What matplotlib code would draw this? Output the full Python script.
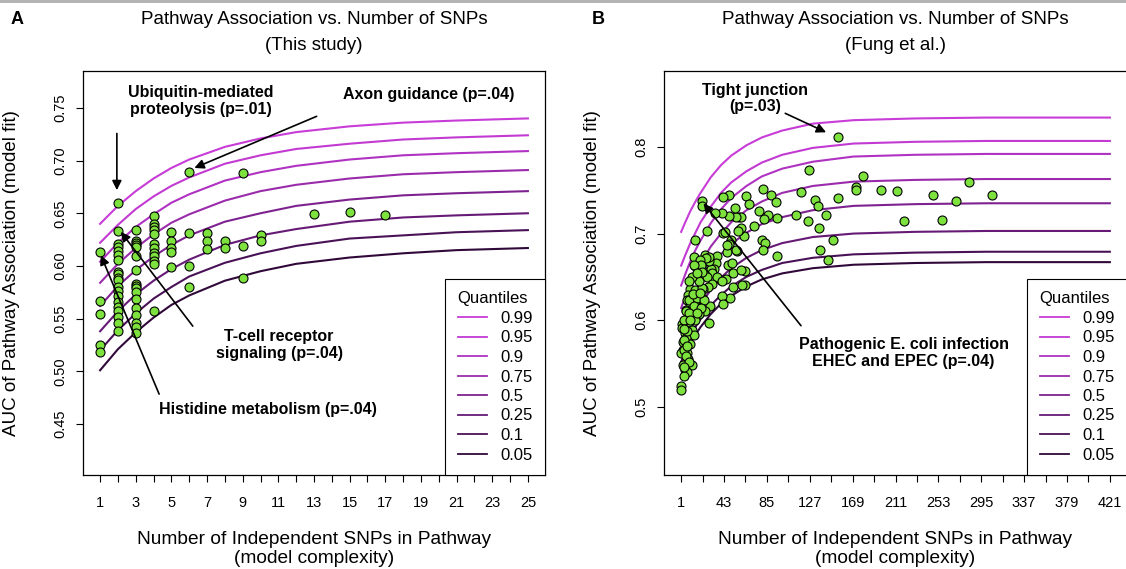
import matplotlib
matplotlib.use('Agg')
import matplotlib.pyplot as plt
from matplotlib.lines import Line2D
from matplotlib.patches import Rectangle

plt.rcParams['font.family'] = ['Liberation Sans', 'DejaVu Sans']

quantiles = ['0.99', '0.95', '0.9', '0.75', '0.5', '0.25', '0.1', '0.05']
curve_colors = ['#c83cd8', '#c23ad2', '#b032c2', '#9a2cab', '#7e2290', '#661a76', '#4a1256', '#30093a']

# ---- panel A : this study ----
a_curve_x = [1, 2, 3, 4, 5, 6, 8, 10, 12, 15, 18, 21, 25]
a_curves = [
    [0.640, 0.657, 0.671, 0.683, 0.693, 0.701, 0.713, 0.721, 0.727, 0.7325, 0.736, 0.738, 0.740],
    [0.622, 0.639, 0.654, 0.666, 0.676, 0.684, 0.697, 0.705, 0.711, 0.716, 0.720, 0.722, 0.724],
    [0.604, 0.622, 0.637, 0.649, 0.660, 0.668, 0.681, 0.689, 0.695, 0.701, 0.705, 0.707, 0.709],
    [0.584, 0.602, 0.617, 0.630, 0.641, 0.649, 0.662, 0.671, 0.677, 0.683, 0.687, 0.689, 0.691],
    [0.562, 0.581, 0.596, 0.609, 0.620, 0.629, 0.642, 0.650, 0.657, 0.663, 0.667, 0.669, 0.671],
    [0.538, 0.557, 0.573, 0.586, 0.597, 0.606, 0.620, 0.629, 0.635, 0.642, 0.646, 0.648, 0.650],
    [0.520, 0.539, 0.555, 0.569, 0.580, 0.590, 0.603, 0.612, 0.619, 0.626, 0.629, 0.632, 0.634],
    [0.501, 0.521, 0.537, 0.551, 0.563, 0.572, 0.586, 0.595, 0.602, 0.608, 0.612, 0.615, 0.617],
]
a_snps = ([1] * 5 + [2] * 20 + [3] * 17 + [4] * 12 + [5] * 5 + [6] * 4 + [7] * 3 + [8] * 2
          + [9] * 3 + [10] * 2 + [13, 15, 17])
a_auc = [0.613, 0.567, 0.554, 0.525, 0.518,
         0.660, 0.633, 0.621, 0.618, 0.614, 0.610, 0.606, 0.594, 0.592, 0.589,
         0.587, 0.580, 0.576, 0.571, 0.566, 0.561, 0.557, 0.552, 0.546, 0.538,
         0.634, 0.624, 0.622, 0.620, 0.618, 0.609, 0.596, 0.583, 0.581, 0.579,
         0.575, 0.569, 0.560, 0.553, 0.546, 0.542, 0.536,
         0.647, 0.640, 0.637, 0.634, 0.630, 0.621, 0.617, 0.612, 0.609, 0.605, 0.602, 0.557,
         0.632, 0.624, 0.617, 0.613, 0.599,
         0.689, 0.631, 0.600, 0.580,
         0.631, 0.624, 0.616,
         0.624, 0.617,
         0.688, 0.619, 0.589,
         0.629, 0.624,
         0.649, 0.651, 0.648]

# ---- panel B : Fung et al. ----
b_curve_x = [1, 5, 10, 15, 20, 30, 40, 50, 65, 80, 100, 130, 170, 230, 300, 421]
b_curves = [
    [0.702, 0.713, 0.726, 0.737, 0.747, 0.765, 0.779, 0.790, 0.802, 0.811, 0.819, 0.827, 0.831, 0.833, 0.834, 0.834],
    [0.663, 0.675, 0.689, 0.701, 0.713, 0.731, 0.747, 0.759, 0.772, 0.782, 0.791, 0.799, 0.804, 0.806, 0.807, 0.807],
    [0.640, 0.653, 0.668, 0.681, 0.692, 0.712, 0.728, 0.741, 0.755, 0.766, 0.775, 0.783, 0.789, 0.791, 0.792, 0.792],
    [0.614, 0.627, 0.641, 0.654, 0.665, 0.685, 0.700, 0.713, 0.727, 0.737, 0.747, 0.755, 0.760, 0.762, 0.763, 0.763],
    [0.594, 0.606, 0.620, 0.632, 0.643, 0.661, 0.676, 0.688, 0.701, 0.711, 0.719, 0.727, 0.732, 0.734, 0.735, 0.735],
    [0.574, 0.585, 0.597, 0.608, 0.618, 0.635, 0.649, 0.660, 0.672, 0.681, 0.689, 0.696, 0.700, 0.702, 0.703, 0.703],
    [0.560, 0.570, 0.582, 0.592, 0.601, 0.617, 0.629, 0.639, 0.650, 0.658, 0.666, 0.672, 0.676, 0.678, 0.679, 0.679],
    [0.552, 0.562, 0.573, 0.583, 0.592, 0.607, 0.619, 0.628, 0.639, 0.647, 0.654, 0.660, 0.664, 0.666, 0.667, 0.667],
]
b_snps = [155, 126, 179, 283, 172, 172, 197, 212, 248, 306, 270, 219, 257, 155, 132, 135, 118, 143,
          136, 150, 137, 145, 114, 125, 95, 95, 81, 89, 94, 77, 86, 82, 72, 80, 83, 81, 65, 67, 63,
          64, 64,
          58, 60, 55, 48, 54, 48, 42, 41, 34, 58, 60, 56, 52, 52, 49, 41, 42, 42, 44, 50, 48, 46,
          47, 51, 40, 45, 36, 35, 33, 30, 31, 36, 26, 21, 21, 24, 21, 28, 24, 26, 31, 27, 22, 21,
          29, 24, 28, 55, 46, 61, 57, 28, 25, 41, 60,
          15, 14, 19, 15, 16, 10, 7.5, 6.6, 14, 10, 16, 5.6, 11.5, 18, 14.7, 9, 2, 2, 5, 11.5,
          13.8, 6, 2.6, 10, 3.3, 6.6, 1.3, 8, 2.6, 11.5, 5, 7, 4, 1, 1,
          20, 21.6, 15, 21.6, 8.5, 16.7, 23, 13.4, 20, 5.3, 8.5, 16.7, 3.9, 10.1, 6.9, 3.9, 3.9,
          5.3, 8.5, 3.9, 13.7, 18, 12, 17, 9, 4, 7, 12.5, 19]
b_auc = [0.812, 0.774, 0.767, 0.760, 0.754, 0.750, 0.750, 0.749, 0.745, 0.745, 0.738, 0.714, 0.716,
         0.741, 0.739, 0.732, 0.748, 0.721, 0.707, 0.693, 0.681, 0.670, 0.722, 0.715, 0.718, 0.674,
         0.752, 0.744, 0.737, 0.726, 0.721, 0.717, 0.709, 0.693, 0.689, 0.681, 0.743, 0.734, 0.697,
         0.657, 0.641,
         0.719, 0.719, 0.719, 0.720, 0.729, 0.745, 0.742, 0.724, 0.724, 0.704, 0.706, 0.680, 0.655,
         0.638, 0.626, 0.628, 0.619, 0.701, 0.702, 0.693, 0.688, 0.679, 0.664, 0.666, 0.646, 0.648,
         0.674, 0.666, 0.659, 0.659, 0.654, 0.650, 0.703, 0.738, 0.732, 0.675, 0.663, 0.668, 0.652,
         0.650, 0.642, 0.638, 0.636, 0.626, 0.616, 0.611, 0.597, 0.681, 0.687, 0.641, 0.703, 0.673,
         0.672, 0.645, 0.658,
         0.693, 0.673, 0.670, 0.662, 0.628, 0.636, 0.629, 0.623, 0.625, 0.616, 0.616, 0.612, 0.607,
         0.607, 0.600, 0.598, 0.596, 0.591, 0.585, 0.589, 0.583, 0.579, 0.575, 0.573, 0.566, 0.562,
         0.562, 0.555, 0.548, 0.548, 0.542, 0.540, 0.535, 0.524, 0.519,
         0.664, 0.656, 0.635, 0.637, 0.623, 0.625, 0.623, 0.616, 0.614, 0.610, 0.608, 0.608, 0.600,
         0.600, 0.587, 0.577, 0.566, 0.558, 0.552, 0.546, 0.664, 0.645, 0.650, 0.655, 0.645, 0.590,
         0.570, 0.630, 0.631]

point_face = '#7ee23e'
W, H = 1126, 569

fig = plt.figure(figsize=(W / 100, H / 100), dpi=100)
fig.patches.append(Rectangle((0, 1 - 3 / H), 1, 3 / H, transform=fig.transFigure,
                             facecolor='#b4b4b4', edgecolor='none'))

ax1 = fig.add_axes([83 / W, 94 / H, 462 / W, 404 / H])
ax2 = fig.add_axes([664 / W, 94 / H, 463 / W, 404 / H])


def style_axes(ax, xticks, every, yticks, ylabels):
    ax.set_xticks(xticks)
    ax.set_xticklabels([str(t) if i % every == 0 else '' for i, t in enumerate(xticks)])
    ax.set_yticks(yticks)
    ax.set_yticklabels(ylabels, rotation=90, va='center')
    ax.tick_params(direction='out', length=5, width=0.8, labelsize=10.5)
    ax.tick_params(axis='x', pad=10)
    ax.tick_params(axis='y', pad=6)
    for s in ax.spines.values():
        s.set_linewidth(0.9)
    ax.set_ylabel('AUC of Pathway Association (model fit)', fontsize=13.5)
    ax.yaxis.set_label_coords(-0.136, 0.5)
    ax.set_xlabel('Number of Independent SNPs in Pathway\n(model complexity)', fontsize=13.8,
                  linespacing=1.2)
    ax.xaxis.set_label_coords(0.5, -0.138)


def draw_panel(ax, cx, curves, sx, sy):
    for ys, c in zip(curves, curve_colors):
        ax.plot(cx, ys, color=c, lw=1.5, zorder=2)
    ax.scatter(sx, sy, s=42, facecolor=point_face, edgecolor='black', linewidths=0.8, zorder=3)
    handles = [Line2D([], [], color=c, lw=1.3) for c in curve_colors]
    leg = ax.legend(handles, quantiles, loc='lower right', title='Quantiles', fontsize=12,
                    title_fontsize=12, fancybox=False, edgecolor='black', framealpha=1,
                    borderaxespad=0, handlelength=1.75, handletextpad=0.8, labelspacing=0.27,
                    borderpad=0.75, alignment='left')
    leg.get_frame().set_linewidth(0.8)


def arrow(ax, start, end):
    ax.annotate('', xy=end, xytext=start,
                arrowprops=dict(arrowstyle='-|>', color='black', lw=1.2, mutation_scale=14,
                                shrinkA=0, shrinkB=0), zorder=4)


# panel A
draw_panel(ax1, a_curve_x, a_curves, a_snps, a_auc)
ax1.set_xlim(0.04, 25.96)
ax1.set_ylim(0.4016, 0.785)
style_axes(ax1, list(range(1, 26)), 2, [0.45, 0.5, 0.55, 0.6, 0.65, 0.7, 0.75],
           ['0.45', '0.50', '0.55', '0.60', '0.65', '0.70', '0.75'])
bold = dict(fontsize=11.5, fontweight='bold', ha='center', va='center', linespacing=1.15)
ax1.text(6.66, 0.7564, 'Ubiquitin-mediated\nproteolysis (p=.01)', **bold)
ax1.text(19.45, 0.7627, 'Axon guidance (p=.04)', **bold)
ax1.text(11.04, 0.5253, 'T-cell receptor\nsignaling (p=.04)', **bold)
ax1.text(10.39, 0.4638, 'Histidine metabolism (p=.04)', **bold)
arrow(ax1, (1.94, 0.7257), (1.94, 0.6719))
arrow(ax1, (13.15, 0.742), (6.29, 0.693))
arrow(ax1, (6.2, 0.5429), (2.16, 0.6324))
arrow(ax1, (4.31, 0.4784), (1.04, 0.6102))

# panel B
draw_panel(ax2, b_curve_x, b_curves, b_snps, b_auc)
ax2.set_xlim(-15.8, 437.8)
ax2.set_ylim(0.4211, 0.8878)
style_axes(ax2, list(range(1, 422, 21)), 2, [0.5, 0.6, 0.7, 0.8], ['0.5', '0.6', '0.7', '0.8'])
ax2.text(73.6, 0.856, 'Tight junction\n(p=.03)', **bold)
ax2.text(219, 0.5617, 'Pathogenic E. coli infection\nEHEC and EPEC (p=.04)', **bold)
arrow(ax2, (103, 0.8389), (143, 0.817))
arrow(ax2, (118.4, 0.5936), (22.9, 0.7349))

# titles and panel letters
for ax, sub in [(ax1, '(This study)'), (ax2, '(Fung et al.)')]:
    ax.text(0.5, (475 - 20) / 404, 'Pathway Association vs. Number of SNPs', transform=ax.transAxes,
            ha='center', va='center', fontsize=13.5)
    ax.text(0.5, (475 - 45) / 404, sub, transform=ax.transAxes, ha='center', va='center', fontsize=13.5)
fig.text(17 / W, 1 - 20 / H, 'A', fontsize=13, fontweight='bold', ha='center', va='center')
fig.text(598 / W, 1 - 20 / H, 'B', fontsize=13, fontweight='bold', ha='center', va='center')

fig.savefig('out.png', dpi=100)
